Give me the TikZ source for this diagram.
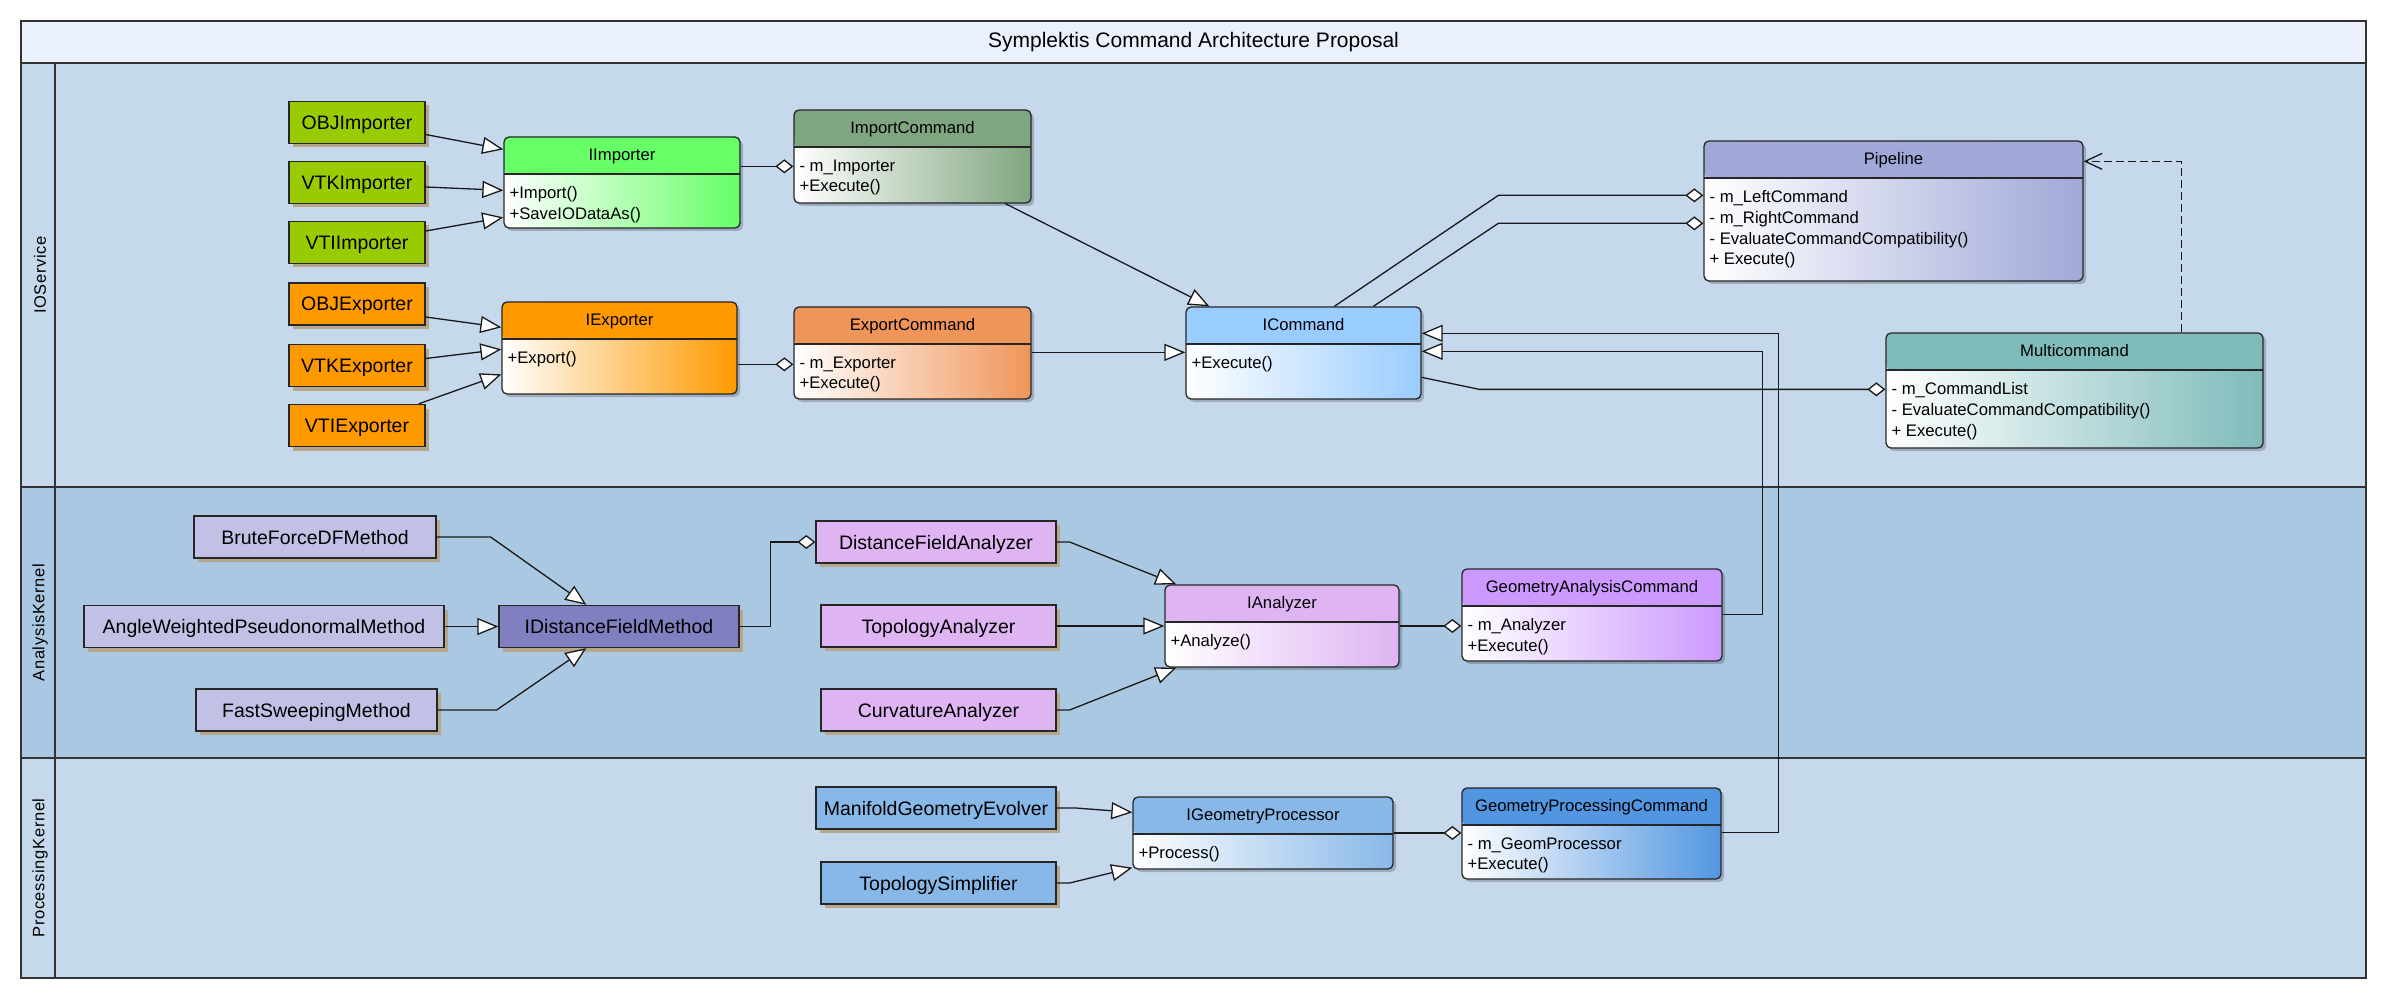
\documentclass[tikz,border=0pt]{standalone}
\usepackage{fontspec}
\setmainfont{Liberation Sans}
\newfontfamily\lanefont[LetterSpace=4]{Liberation Sans}
\usepackage{tikz}
\usetikzlibrary{arrows.meta,calc,shadows}

\definecolor{titlebg}{HTML}{EAF1FD}
\definecolor{lanebg}{HTML}{C5D8EC}
\definecolor{lanedark}{HTML}{AAC8E1}
\definecolor{shadowtan}{HTML}{B5A68C}
\definecolor{impgreen}{HTML}{99CC00}
\definecolor{exporange}{HTML}{FF9900}
\definecolor{iimpgreen}{HTML}{66FF66}
\definecolor{impcmdgreen}{HTML}{7FA67F}
\definecolor{expcmdorange}{HTML}{F0955A}
\definecolor{icmdblue}{HTML}{99CCFF}
\definecolor{pipeblue}{HTML}{A0A8D8}
\definecolor{multiteal}{HTML}{7FBBBB}
\definecolor{methodlav}{HTML}{C1C1E6}
\definecolor{idfmblue}{HTML}{8080C0}
\definecolor{analyzerpink}{HTML}{DEB4F2}
\definecolor{gacpurple}{HTML}{CC99FF}
\definecolor{procblue}{HTML}{88B8E8}
\definecolor{gpcblue}{HTML}{5296E1}

% class box: name, x, y (top left), width, height, colour, title, members
\newcommand{\umlclass}[8]{%
  \node[classbox, right color=#6, minimum width=#4pt, minimum height=#5pt,
    path picture={
      \fill[#6] (path picture bounding box.north west) rectangle ([yshift=-37pt]path picture bounding box.north east);
      \draw[line width=1.3pt] ([yshift=-37pt]path picture bounding box.north west) -- ([yshift=-37pt]path picture bounding box.north east);
    }] (#1) at (#2+#4/2, #3+#5/2) {};
  \node[classtitle] (#1t) at ([yshift=-18.5pt]#1.north) {#7};
  \node[classmembers] (#1m) at ([xshift=6pt,yshift=-50pt]#1.north west) {#8};
}

\begin{document}
\begin{tikzpicture}[x=1pt, y=-1pt,
    simplebox/.style={draw=black!85, line width=1.3pt, minimum height=42pt, inner sep=0pt,
      font=\fontsize{19.5pt}{22pt}\selectfont, text height=14pt, text depth=0pt,
      drop shadow={shadow xshift=4pt, shadow yshift=-4pt, fill=shadowtan, opacity=1}},
    classbox/.style={draw=black!85, line width=1.3pt, rounded corners=5pt, inner sep=0pt, left color=white,
      drop shadow={shadow xshift=3pt, shadow yshift=-3pt, fill=black, opacity=0.2}},
    classtitle/.style={inner sep=0pt, font=\fontsize{16.7pt}{20pt}\selectfont, text height=12pt, text depth=0pt},
    classmembers/.style={anchor=north west, align=left, inner sep=0pt, font=\fontsize{16.7pt}{20.7pt}\selectfont},
    link/.style={line width=1.3pt, black!90},
    inherit/.style={link, -{Triangle[fill=white, length=21pt, width=17pt]}},
    aggr/.style={link, -{Diamond[fill=white, length=18pt, width=14pt]}},
    depend/.style={link, dash pattern=on 8pt off 4pt, -{Straight Barb[length=17pt, width=16pt]}},
    lanelabel/.style={rotate=90, font=\lanefont\fontsize{16.5pt}{19pt}\selectfont}
  ]
    \useasboundingbox (0,0) rectangle (2388,1000);

    % Swim lanes
    \fill[titlebg] (21,21) rectangle (2366,63);
    \fill[lanebg] (21,63) rectangle (2366,487);
    \fill[lanedark] (21,487) rectangle (2366,758);
    \fill[lanebg] (21,758) rectangle (2366,978);
    \draw[line width=2pt, black!80] (21,63) -- (2366,63) (21,487) -- (2366,487) (21,758) -- (2366,758);
    \draw[line width=1.5pt, black!80] (55,63) -- (55,978);
    \draw[line width=2pt, black!80] (21,21) rectangle (2366,978);

    %lane labels
    \node[font=\fontsize{21pt}{24pt}\selectfont] (diagtitle) at (1193.5,42) {Symplektis Command Architecture Proposal};
    \node[lanelabel] (ioservice) at (40,275) {IOService};
    \node[lanelabel] (analysiskernel) at (40,622.5) {AnalysisKernel};
    \node[lanelabel] (processingkernel) at (40,868) {ProcessingKernel};

    % Importers and exporters
    \node[simplebox, fill=impgreen, minimum width=136pt] (objimp) at (357,122.5) {OBJImporter};
    \node[simplebox, fill=impgreen, minimum width=136pt] (vtkimp) at (357,182.5) {VTKImporter};
    \node[simplebox, fill=impgreen, minimum width=136pt] (vtiimp) at (357,242.5) {VTIImporter};
    \node[simplebox, fill=exporange, minimum width=136pt] (objexp) at (357,304) {OBJExporter};
    \node[simplebox, fill=exporange, minimum width=136pt] (vtkexp) at (357,365.5) {VTKExporter};
    \node[simplebox, fill=exporange, minimum width=136pt] (vtiexp) at (357,425.5) {VTIExporter};

    % Distance field methods
    \node[simplebox, fill=methodlav, minimum width=242pt] (bruteforce) at (315,537) {BruteForceDFMethod};
    \node[simplebox, fill=methodlav, minimum width=360pt] (angleweighted) at (264,626.5) {AngleWeightedPseudonormalMethod};
    \node[simplebox, fill=methodlav, minimum width=241pt] (fastsweep) at (316.5,710) {FastSweepingMethod};
    \node[simplebox, fill=idfmblue, minimum width=240pt] (idfm) at (619,626.5) {IDistanceFieldMethod};

    % Analyzers
    \node[simplebox, fill=analyzerpink, minimum width=240pt] (dfanalyzer) at (936,542) {DistanceFieldAnalyzer};
    \node[simplebox, fill=analyzerpink, minimum width=235pt] (topoanalyzer) at (938.5,626) {TopologyAnalyzer};
    \node[simplebox, fill=analyzerpink, minimum width=235pt] (curvanalyzer) at (938.5,710) {CurvatureAnalyzer};

    % Processors
    \node[simplebox, fill=procblue, minimum width=240pt] (manifold) at (936,808) {ManifoldGeometryEvolver};
    \node[simplebox, fill=procblue, minimum width=235pt] (toposimp) at (938.5,883) {TopologySimplifier};

    % Class boxes
    \umlclass{iimp}{504}{137}{236}{91}{iimpgreen}{IImporter}{+Import()\\+SaveIODataAs()}
    \umlclass{iexp}{502}{302}{235}{92}{exporange}{IExporter}{+Export()}
    \umlclass{impcmd}{794}{110}{237}{93}{impcmdgreen}{ImportCommand}{- m\_Importer\\+Execute()}
    \umlclass{expcmd}{794}{307}{237}{92}{expcmdorange}{ExportCommand}{- m\_Exporter\\+Execute()}
    \umlclass{icmd}{1186}{307}{235}{92}{icmdblue}{ICommand}{+Execute()}
    \umlclass{pipeline}{1704}{141}{379}{140}{pipeblue}{Pipeline}{- m\_LeftCommand\\- m\_RightCommand\\- EvaluateCommandCompatibility()\\+ Execute()}
    \umlclass{multicmd}{1886}{333}{377}{115}{multiteal}{Multicommand}{- m\_CommandList\\- EvaluateCommandCompatibility()\\+ Execute()}
    \umlclass{ianalyzer}{1165}{585}{234}{82}{analyzerpink}{IAnalyzer}{+Analyze()}
    \umlclass{gacmd}{1462}{569}{260}{92}{gacpurple}{GeometryAnalysisCommand}{- m\_Analyzer\\+Execute()}
    \umlclass{igp}{1133}{797}{260}{72}{procblue}{IGeometryProcessor}{+Process()}
    \umlclass{gpcmd}{1462}{788}{259}{91}{gpcblue}{GeometryProcessingCommand}{- m\_GeomProcessor\\+Execute()}

    % IO connectors
    \draw[inherit] ($(objimp.east)+(0,12)$) -- ($(iimp.north west)+(0,13)$);
    \draw[inherit] ($(vtkimp.east)+(0,4.5)$) -- ($(iimp.north west)+(0,54)$);
    \draw[inherit] ($(vtiimp.east)+(0,-11.5)$) -- ($(iimp.north west)+(0,81)$);
    \draw[inherit] ($(objexp.east)+(0,13)$) -- ($(iexp.north west)+(0,26)$);
    \draw[inherit] ($(vtkexp.east)+(0,-7)$) -- ($(iexp.north west)+(0,48)$);
    \draw[inherit] ($(vtiexp.north east)+(-7,0)$) -- ($(iexp.north west)+(0,73)$);
    \draw[aggr] ($(iimp.north east)+(0,30)$) -- ($(impcmd.north west)+(0,57)$);
    \draw[aggr] ($(iexp.north east)+(0,63)$) -- ($(expcmd.north west)+(0,58)$);

    % Command connectors
    \draw[inherit] ($(impcmd.south west)+(212,0)$) -- ($(icmd.north west)+(24,0)$);
    \draw[inherit] ($(expcmd.north east)+(0,46)$) -- ($(icmd.north west)+(0,46)$);
    \draw[aggr] ($(icmd.north west)+(149,0)$) -- ($(pipeline.north west)+(-205,55)$) -- ($(pipeline.north west)+(0,55)$);
    \draw[aggr] ($(icmd.north west)+(188,0)$) -- ($(pipeline.north west)+(-205,83)$) -- ($(pipeline.north west)+(0,83)$);
    \draw[aggr] ($(icmd.north east)+(0,71)$) -- ($(multicmd.north west)+(-406,57)$) -- ($(multicmd.north west)+(0,57)$);
    \draw[depend] ($(multicmd.north west)+(296,0)$) |- ($(pipeline.north east)+(0,21)$);
    \draw[inherit] ($(gacmd.north east)+(0,46)$) -- ++(40,0) |- ($(icmd.north east)+(0,45)$);
    \draw[inherit] ($(gpcmd.north east)+(0,45)$) -- ++(57,0) |- ($(icmd.north east)+(0,27)$);

    % Analysis connectors
    \draw[inherit] (bruteforce.east) -- ++(54,0) -- ($(idfm.north west)+(88,0)$);
    \draw[inherit] (angleweighted.east) -- (idfm.west);
    \draw[inherit] (fastsweep.east) -- ++(59,0) -- ($(idfm.south west)+(88,0)$);
    \draw[aggr] (idfm.east) -- ++(31,0) |- (dfanalyzer.west);
    \draw[inherit] (dfanalyzer.east) -- ++(13,0) -- ($(ianalyzer.north west)+(12,0)$);
    \draw[inherit] (topoanalyzer.east) -- (topoanalyzer.east -| ianalyzer.west);
    \draw[inherit] (curvanalyzer.east) -- ++(13,0) -- ($(ianalyzer.south west)+(12,0)$);
    \draw[aggr] (ianalyzer.east) -- (ianalyzer.east -| gacmd.west);

    % Processing connectors
    \draw[inherit] (manifold.east) -- ++(19,0) -- ($(igp.north west)+(0,16)$);
    \draw[inherit] (toposimp.east) -- ++(13,0) -- ($(igp.south west)+(0,-2)$);
    \draw[aggr] (igp.east) -- (igp.east -| gpcmd.west);

\end{tikzpicture}
\end{document}
